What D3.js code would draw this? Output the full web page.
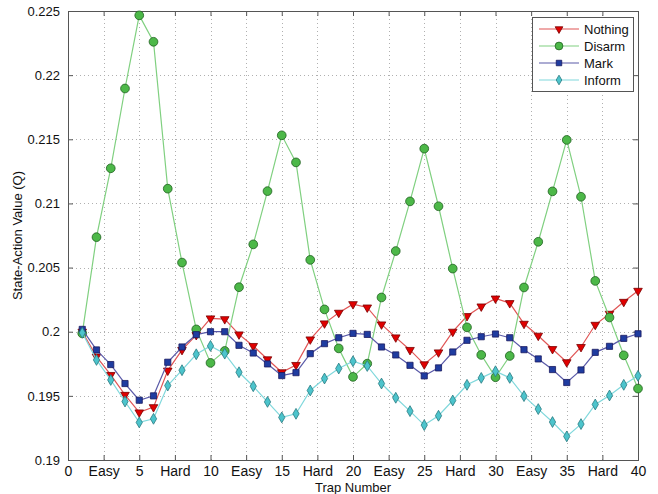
<!DOCTYPE html>
<html>
<head>
<meta charset="utf-8">
<script src="https://cdn.jsdelivr.net/npm/d3@7/dist/d3.min.js"></script>
<style>
  html, body { margin: 0; padding: 0; background: #fff; }
  svg { display: block; font-family: "Liberation Sans", Arial, sans-serif; }
</style>
</head>
<body>
<svg id="chart" width="658" height="494"></svg>
<script>
// Trap numbers 1..40
const traps = d3.range(1, 41);

const nothing = [0.2000, 0.19806, 0.19663, 0.19508, 0.19371, 0.19412, 0.19697, 0.19858, 0.19974, 0.20104,
                 0.20098, 0.19979, 0.19889, 0.19785, 0.19684, 0.19741, 0.19940, 0.20065, 0.20148, 0.20215,
                 0.20189, 0.20057, 0.19956, 0.19858, 0.19746, 0.19839, 0.20000, 0.20122, 0.20197, 0.20259,
                 0.20223, 0.20062, 0.19969, 0.19865, 0.19762, 0.19881, 0.20054, 0.20140, 0.20233, 0.20319];

const disarm = [0.19987, 0.20737, 0.21274, 0.21896, 0.22466, 0.22260, 0.21115, 0.20539, 0.20018, 0.19757,
                0.19850, 0.20347, 0.20681, 0.21096, 0.21531, 0.21320, 0.20560, 0.20174, 0.19870, 0.19648,
                0.19751, 0.20267, 0.20629, 0.21016, 0.21427, 0.20978, 0.20492, 0.20034, 0.19819, 0.19645,
                0.19811, 0.20345, 0.20701, 0.21094, 0.21495, 0.21052, 0.20396, 0.20111, 0.19816, 0.19557];

const mark = [0.20018, 0.19858, 0.19744, 0.19596, 0.19466, 0.19500, 0.19762, 0.19881, 0.19977, 0.20000,
              0.20000, 0.19894, 0.19834, 0.19749, 0.19658, 0.19681, 0.19829, 0.19907, 0.19953, 0.19987,
              0.19979, 0.19881, 0.19819, 0.19738, 0.19656, 0.19718, 0.19842, 0.19933, 0.19961, 0.19982,
              0.19953, 0.19860, 0.19788, 0.19705, 0.19604, 0.19702, 0.19839, 0.19886, 0.19948, 0.19984];

const inform = [0.19992, 0.19780, 0.19624, 0.19456, 0.19293, 0.19321, 0.19580, 0.19700, 0.19824, 0.19889,
                0.19829, 0.19684, 0.19575, 0.19453, 0.19332, 0.19360, 0.19542, 0.19635, 0.19713, 0.19770,
                0.19733, 0.19596, 0.19485, 0.19381, 0.19272, 0.19345, 0.19464, 0.19586, 0.19640, 0.19692,
                0.19640, 0.19498, 0.19397, 0.19296, 0.19184, 0.19280, 0.19433, 0.19503, 0.19586, 0.19656];

// x ticks every 2.5, with difficulty labels in between the numbered ticks
const xTickValues = d3.range(0, 40.01, 2.5);
const xTickLabels = ["0", "Easy", "5", "Hard", "10", "Easy", "15", "Hard", "20",
                     "Easy", "25", "Hard", "30", "Easy", "35", "Hard", "40"];
const yTickValues = [0.19, 0.195, 0.2, 0.205, 0.21, 0.215, 0.22, 0.225];
const yTickLabels = ["0.19", "0.195", "0.2", "0.205", "0.21", "0.215", "0.22", "0.225"];

const seriesNames = ["Nothing", "Disarm", "Mark", "Inform"];
const seriesValues = [nothing, disarm, mark, inform];

const styles = {
  Nothing: { line: "#e05555", fill: "#e00000", stroke: "#7a0000", symbol: d3.symbolTriangle, size: 32, rotate: 180 },
  Disarm:  { line: "#80d080", fill: "#4cb848", stroke: "#1f5f1f", symbol: d3.symbolCircle, size: 60, rotate: 0 },
  Mark:    { line: "#5a5aa8", fill: "#1f3ca0", stroke: "#1a1a60", symbol: d3.symbolSquare, size: 38, rotate: 0 },
  Inform:  { line: "#80d8dc", fill: "#4cc4cc", stroke: "#2a7a80", symbol: d3.symbolDiamond, size: 34, rotate: 0 }
};

const svg = d3.select("#chart");
const margin = { left: 68, right: 20, top: 11, bottom: 34 };
const W = 658, H = 494;
const x0 = margin.left, x1 = W - margin.right, y0 = H - margin.bottom, y1 = margin.top;

const x = d3.scaleLinear().domain([0, 40]).range([x0, x1]);
const y = d3.scaleLinear().domain([0.19, 0.225]).range([y0, y1]);

// grid
const grid = svg.append("g").attr("stroke", "#b0b0b0").attr("stroke-width", 1).attr("stroke-dasharray", "1,3");
grid.selectAll("line.gx").data(xTickValues.slice(1, -1)).join("line")
  .attr("x1", d => Math.round(x(d)) + 0.5).attr("x2", d => Math.round(x(d)) + 0.5)
  .attr("y1", y1).attr("y2", y0);
grid.selectAll("line.gy").data(yTickValues.slice(1, -1)).join("line")
  .attr("y1", d => Math.round(y(d)) + 0.5).attr("y2", d => Math.round(y(d)) + 0.5)
  .attr("x1", x0).attr("x2", x1);

// axes with inward ticks
const xAxis = d3.axisBottom(x).tickValues(xTickValues)
  .tickFormat((d, i) => xTickLabels[i]).tickSizeInner(-5).tickSizeOuter(0).tickPadding(6);
const yAxis = d3.axisLeft(y).tickValues(yTickValues)
  .tickFormat((d, i) => yTickLabels[i]).tickSizeInner(-5).tickSizeOuter(0).tickPadding(8);

const gx = svg.append("g").attr("transform", `translate(0,${y0})`).call(xAxis);
const gy = svg.append("g").attr("transform", `translate(${x0},0)`).call(yAxis);
const gxTop = svg.append("g").attr("transform", `translate(0,${y1})`)
  .call(d3.axisTop(x).tickValues(xTickValues).tickSizeInner(-5).tickSizeOuter(0).tickFormat(""));
const gyRight = svg.append("g").attr("transform", `translate(${x1},0)`)
  .call(d3.axisRight(y).tickValues(yTickValues).tickSizeInner(-5).tickSizeOuter(0).tickFormat(""));

[gx, gy, gxTop, gyRight].forEach(g => {
  g.select(".domain").remove();
  g.selectAll(".tick line").attr("stroke", "#555");
  g.selectAll("text").attr("font-size", 13).attr("fill", "#111")
    .attr("font-family", "'Liberation Sans', Arial, sans-serif");
});
gx.selectAll("text").attr("font-size", 14);

// frame
svg.append("rect").attr("x", x0 + 0.5).attr("y", y1 + 0.5)
  .attr("width", x1 - x0).attr("height", y0 - y1)
  .attr("fill", "none").attr("stroke", "#555").attr("stroke-width", 1);

// series
const line = d3.line().x((d, i) => x(traps[i])).y(d => y(d));
seriesNames.forEach((name, k) => {
  const st = styles[name];
  const vals = seriesValues[k];
  svg.append("path").datum(vals).attr("d", line)
    .attr("fill", "none").attr("stroke", st.line).attr("stroke-width", 1.2);
  svg.append("g").selectAll("path").data(vals).join("path")
    .attr("d", d3.symbol().type(st.symbol).size(st.size))
    .attr("transform", (d, i) => `translate(${x(traps[i])},${y(d)}) rotate(${st.rotate})`)
    .attr("fill", st.fill).attr("stroke", st.stroke).attr("stroke-width", 0.8);
});

// axis titles
svg.append("text").attr("x", (x0 + x1) / 2).attr("y", 492)
  .attr("text-anchor", "middle").attr("font-size", 13).attr("fill", "#111").text("Trap Number");
svg.append("text").attr("transform", `translate(22,${(y0 + y1) / 2}) rotate(-90)`)
  .attr("text-anchor", "middle").attr("font-size", 13).attr("fill", "#111").text("State-Action Value (Q)");

// legend
const lg = svg.append("g").attr("transform", "translate(532,17)");
lg.append("rect").attr("x", 0.5).attr("y", 0.5).attr("width", 101).attr("height", 74)
  .attr("fill", "#fff").attr("stroke", "#555");
seriesNames.forEach((name, k) => {
  const st = styles[name];
  const cy = 12 + k * 17;
  lg.append("line").attr("x1", 7).attr("x2", 47).attr("y1", cy).attr("y2", cy)
    .attr("stroke", st.line).attr("stroke-width", 1.2);
  lg.append("path").attr("d", d3.symbol().type(st.symbol).size(st.size * 0.8))
    .attr("transform", `translate(27,${cy}) rotate(${st.rotate})`)
    .attr("fill", st.fill).attr("stroke", st.stroke).attr("stroke-width", 0.8);
  lg.append("text").attr("x", 52).attr("y", cy + 4.5).attr("font-size", 13).attr("fill", "#111").text(name);
});
</script>
</body>
</html>
